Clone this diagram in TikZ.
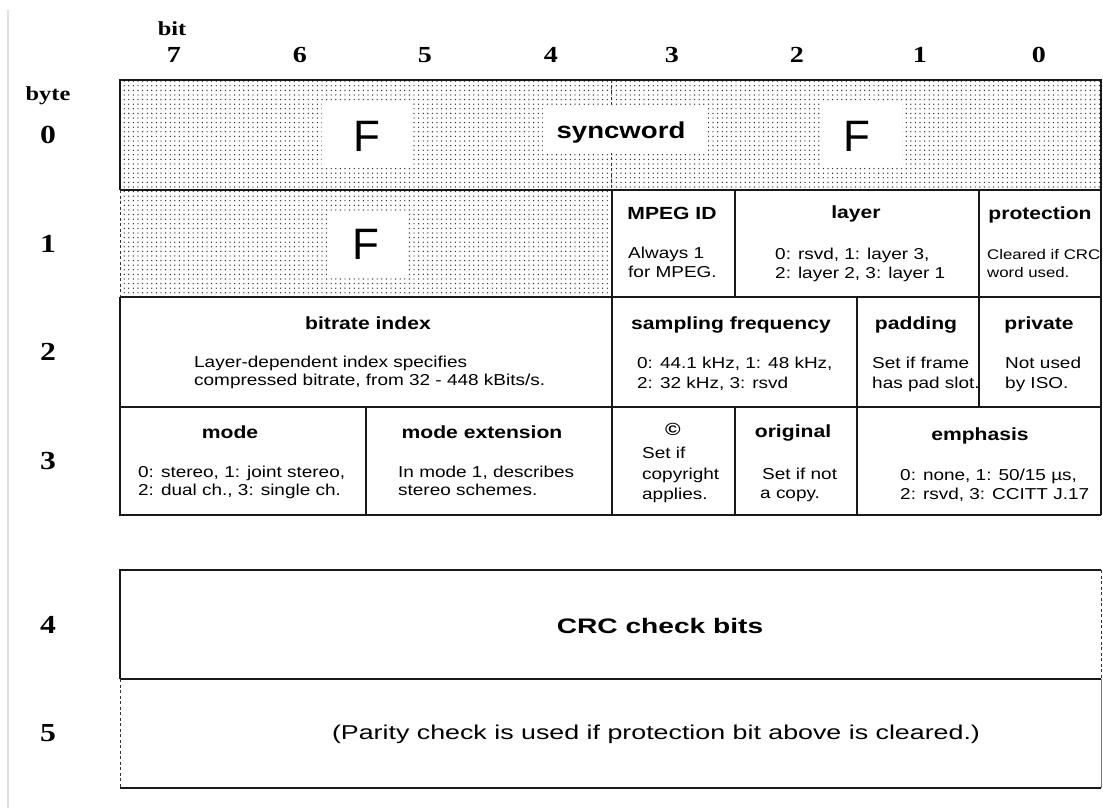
\documentclass[tikz,border=0pt]{standalone}
\usepackage{fontspec}
\usetikzlibrary{patterns.meta}

% widened faces, like the bitmap fonts of the frame-header chart
\newfontfamily\cellfont[FakeStretch=1.2]{Liberation Sans}
\newfontfamily\widefont[FakeStretch=1.34]{Liberation Sans}
\newfontfamily\bigfont{Liberation Sans}
\newfontfamily\labfont[FakeStretch=1.22]{Liberation Serif}

\tikzset{
  grid line/.style={line width=1.3pt, draw=black!90},
  dash line/.style={line width=1pt, draw=black!80, dash pattern=on 3pt off 2.5pt},
  dotted field/.style={pattern={Dots[distance=4.6pt,radius=0.7pt]}, pattern color=black!85},
  blank/.style={fill=white, draw=none},
  head/.style={font={\cellfont\bfseries\fontsize{17.6}{20}\selectfont}, inner sep=0pt, anchor=base},
  body/.style={font={\cellfont\fontsize{15.8}{19}\selectfont}, inner sep=0pt, anchor=base west},
  small body/.style={body, font={\cellfont\fontsize{14}{17}\selectfont}},
  big letter/.style={font={\bigfont\fontsize{44}{44}\selectfont}, inner sep=0pt},
  sync label/.style={font={\cellfont\bfseries\fontsize{23}{23}\selectfont}, inner sep=0pt, anchor=base},
  crc label/.style={font={\widefont\bfseries\fontsize{21}{21}\selectfont}, inner sep=0pt, anchor=base},
  parity label/.style={font={\widefont\fontsize{20}{20}\selectfont}, inner sep=0pt, anchor=base},
  axis word/.style={font={\labfont\bfseries\fontsize{20}{20}\selectfont}, inner sep=0pt, anchor=base},
  col digit/.style={font={\labfont\bfseries\fontsize{23}{23}\selectfont}, inner sep=0pt, anchor=base},
  row digit/.style={font={\labfont\bfseries\fontsize{26}{26}\selectfont}, inner sep=0pt},
}

\begin{document}
\begin{tikzpicture}[x=1pt,y=-1pt]
  \fill[white] (0,0) rectangle (1103,808);
  \useasboundingbox (0,0) rectangle (1103,808);

  % faint window edge on the left
  \draw[black!12, line width=1.5pt] (8,10) -- (8,808);

  % ---- axis labels ----
  \node[axis word] (bitword) at (172,36) {bit};
  \node[axis word] (byteword) at (48,100) {byte};
  \foreach \b/\x in {7/174,6/300,5/425,4/551,3/672,2/797,1/920,0/1039}
    \node[col digit] (bit\b) at (\x,63) {\b};
  \foreach \r/\y in {0/135,1/243.5,2/352,3/461,4/624.5,5/733.5}
    \node[row digit] (byte\r) at (48,\y) {\r};

  % ---- byte 0 and the sync part of byte 1 ----
  \path[dotted field] (120,80) rectangle (1101,190);
  \path[dotted field] (120,190) rectangle (612,297);
  \draw[dash line] (611,80) -- (611,190);

  \path[blank] (322,103) rectangle (411,168);
  \path[blank] (820,102) rectangle (902,166);
  \path[blank] (327,211) rectangle (407,278);
  \path[blank] (543,107) rectangle (708,153);

  \node[big letter] (f1) at (367,136) {F};
  \node[big letter] (f2) at (857,136) {F};
  \node[big letter] (f3) at (366,244) {F};
  \node[sync label] (sync) at (621,138) {syncword};

  % ---- grid of bytes 0..3 ----
  \draw[grid line] (120,190) -- (120,80) -- (1101,80) -- (1101,515);
  \draw[grid line] (120,190) -- (1101,190);
  \draw[dash line] (120,190) -- (120,297);
  \draw[grid line] (120,297) -- (1101,297);
  \draw[grid line] (120,407) -- (1101,407);
  \draw[grid line] (120,297) -- (120,515) -- (1101,515);
  \draw[grid line] (612,190) -- (612,515);
  \draw[grid line] (735,190) -- (735,297);
  \draw[grid line] (979,190) -- (979,407);
  \draw[grid line] (857,297) -- (857,515);
  \draw[grid line] (366,407) -- (366,515);
  \draw[grid line] (735,407) -- (735,515);

  % ---- byte 1 fields ----
  \node[head] (mpegH) at (672,219) {MPEG ID};
  \node[body] (mpegA) at (628,258) {Always 1};
  \node[body] (mpegB) at (628,277) {for MPEG.};
  \node[head] (layerH) at (856,218) {layer};
  \node[body] (layerA) at (775,259) {0: rsvd, 1: layer 3,};
  \node[body] (layerB) at (775,278) {2: layer 2, 3: layer 1};
  \node[head] (protH) at (1040,219) {protection};
  \node[small body] (protA) at (987,259) {Cleared if CRC};
  \node[small body] (protB) at (987,277) {word used.};

  % ---- byte 2 fields ----
  \node[head] (rateH) at (368,329) {bitrate index};
  \node[body] (rateA) at (194,367) {Layer-dependent index specifies};
  \node[body] (rateB) at (194,385) {compressed bitrate, from 32 - 448 kBits/s.};
  \node[head] (freqH) at (731,329) {sampling frequency};
  \node[body] (freqA) at (637,368) {0: 44.1 kHz, 1: 48 kHz,};
  \node[body] (freqB) at (637,388) {2: 32 kHz, 3: rsvd};
  \node[head] (padH) at (916,329) {padding};
  \node[body] (padA) at (872,368) {Set if frame};
  \node[body] (padB) at (872,388) {has pad slot.};
  \node[head] (privH) at (1039,329) {private};
  \node[body] (privA) at (1005,368) {Not used};
  \node[body] (privB) at (1005,388) {by ISO.};

  % ---- byte 3 fields ----
  \node[head] (modeH) at (230,438) {mode};
  \node[body] (modeA) at (138,477) {0: stereo, 1: joint stereo,};
  \node[body] (modeB) at (138,495) {2: dual ch., 3: single ch.};
  \node[head] (extH) at (482,438) {mode extension};
  \node[body] (extA) at (398,477) {In mode 1, describes};
  \node[body] (extB) at (398,495) {stereo schemes.};
  \node[head] (copyH) at (673,435) {©};
  \node[body] (copyA) at (642,458) {Set if};
  \node[body] (copyB) at (642,479) {copyright};
  \node[body] (copyC) at (642,499) {applies.};
  \node[head] (origH) at (793,437) {original};
  \node[body] (origA) at (762,479) {Set if not};
  \node[body] (origB) at (760,498) {a copy.};
  \node[head] (emphH) at (980,440) {emphasis};
  \node[body] (emphA) at (900,480) {0: none, 1: 50/15 µs,};
  \node[body] (emphB) at (900,499) {2: rsvd, 3: CCITT J.17};

  % ---- bytes 4 and 5: CRC word ----
  \draw[grid line] (1101,570) -- (120,570) -- (120,679);
  \draw[grid line] (120,679) -- (1101,679);
  \draw[grid line] (120,788) -- (1101,788);
  \draw[dash line] (1101,570) -- (1101,679);
  \draw[dash line] (120,679) -- (120,788);
  \draw[line width=0.8pt, draw=black!55] (1101,679) -- (1101,788);

  \node[crc label] (crc) at (660,633) {CRC check bits};
  \node[parity label] (parity) at (656,739) {(Parity check is used if protection bit above is cleared.)};
\end{tikzpicture}
\end{document}
